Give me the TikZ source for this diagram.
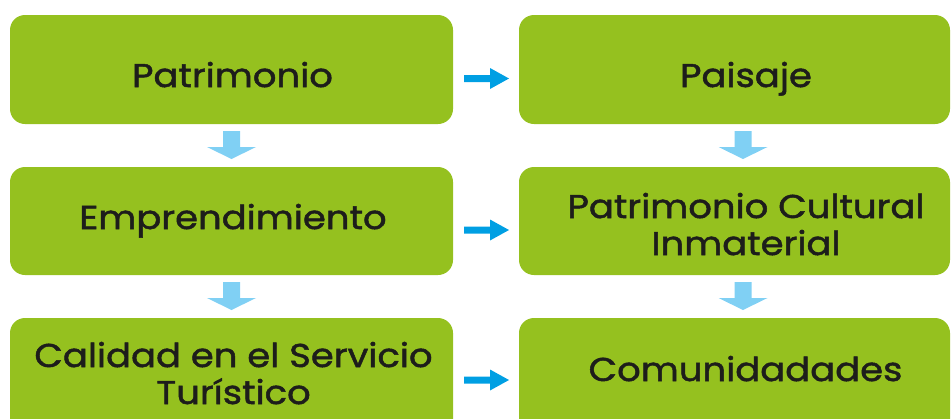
\documentclass[tikz,border=0pt]{standalone}
\usepackage{fontspec}
\setmainfont[FakeStretch=1.12, FakeBold=1.5]{Poppins}
\definecolor{boxgreen}{HTML}{95C11F}
\definecolor{textdark}{HTML}{1D1D1B}
\definecolor{darrcol}{HTML}{80D0F4}
\definecolor{harrcol}{HTML}{009FE3}
\tikzset{
  x=1bp, y=-1bp,
  greenbox/.style={fill=boxgreen, rounded corners=15bp},
  boxtext/.style={text=textdark, font=\fontsize{33bp}{37bp}\selectfont, anchor=base, inner sep=0pt},
  harr/.pic={\fill[harrcol] (0,-3.5) -- (26,-3.5) -- (26,-10.5) -- (45,0) -- (26,10.5) -- (26,3.5) -- (0,3.5) -- cycle;},
  darr/.pic={\fill[darrcol] (-8.5,0) -- (8.5,0) -- (8.5,16) -- (24.5,16) -- (0,28) -- (-24.5,16) -- (-8.5,16) -- cycle;}
}
\begin{document}
\begin{tikzpicture}
\useasboundingbox (0,0) rectangle (951,418);
\clip (0,0) rectangle (951,418);
% boxes
\fill[greenbox] (10,15) rectangle (453,124);
\fill[greenbox] (519,15) rectangle (950,124);
\fill[greenbox] (10,167) rectangle (453,275);
\fill[greenbox] (519,167) rectangle (950,275);
\fill[greenbox] (10,318) rectangle (453,440);
\fill[greenbox] (519,318) rectangle (950,440);
% texts
\node[boxtext] (t1) at (232.5,87) {Patrimonio};
\node[boxtext] (t2) at (746,87) {Paisaje};
\node[boxtext] (t3) at (233,229) {Emprendimiento};
\node[boxtext] (t4a) at (746,218) {Patrimonio Cultural};
\node[boxtext] (t4b) at (746,255) {Inmaterial};
\node[boxtext] (t5a) at (233.5,367) {Calidad en el Servicio};
\node[boxtext] (t5b) at (233.5,404) {Turístico};
\node[boxtext] (t6) at (745.5,381) {Comunidadades};
% arrows
\pic at (464,78.5) {harr};
\pic at (464,230) {harr};
\pic at (464,380) {harr};
\pic at (231.5,131) {darr};
\pic at (231.5,282) {darr};
\pic at (743,131) {darr};
\pic at (743,282) {darr};
\end{tikzpicture}
\end{document}
